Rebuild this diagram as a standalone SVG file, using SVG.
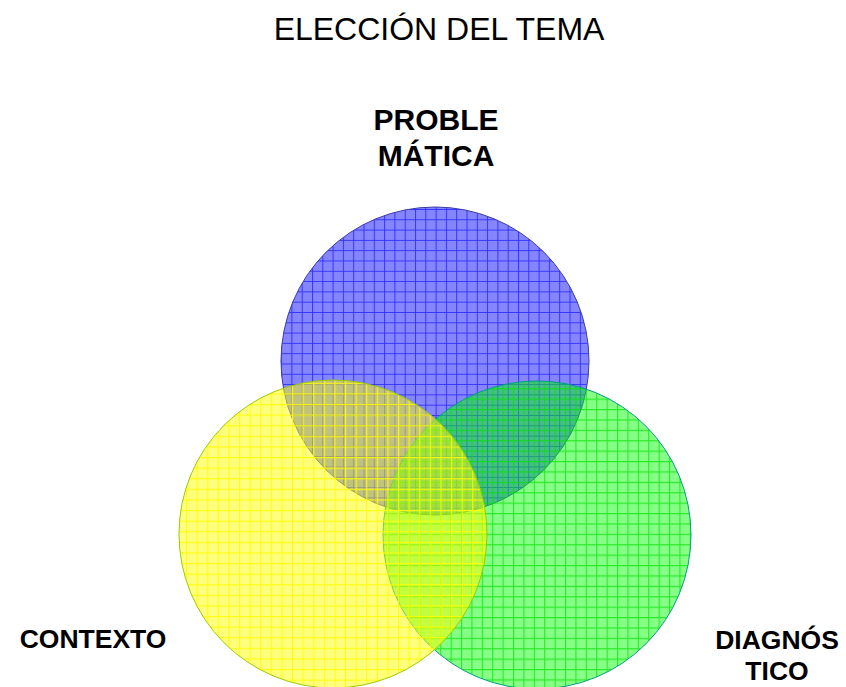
<svg xmlns="http://www.w3.org/2000/svg" width="846" height="687" viewBox="0 0 846 687">
  <style>
    .title { font-family: "Liberation Sans", Arial, sans-serif; font-size: 32px; fill: #000; }
    .lbl { font-family: "Liberation Sans", Arial, sans-serif; font-weight: bold; fill: #000; }
  </style>
  <defs>
    <pattern id="pBlue" patternUnits="userSpaceOnUse" width="10.3" height="10.3" x="3" y="3">
      <rect width="10.3" height="10.3" fill="#0000ff" fill-opacity="0.48"/>
      <path d="M0.5 0V10.3M0 0.5H10.3" stroke="#0000ff" stroke-opacity="0.6" stroke-width="1"/>
    </pattern>
    <pattern id="pYellow" patternUnits="userSpaceOnUse" width="10.6" height="10.6" x="239" y="563">
      <rect width="10.6" height="10.6" fill="#ffff00" fill-opacity="0.5"/>
      <path d="M0.5 0V10.6M0 0.5H10.6" stroke="#ffff00" stroke-opacity="0.85" stroke-width="1.3"/>
    </pattern>
    <pattern id="pGreen" patternUnits="userSpaceOnUse" width="10.4" height="10.4" x="565" y="565">
      <rect width="10.4" height="10.4" fill="#00ff00" fill-opacity="0.48"/>
      <path d="M0.5 0V10.4M0 0.5H10.4" stroke="#00e000" stroke-opacity="0.7" stroke-width="1.2"/>
    </pattern>
  </defs>
  <rect width="846" height="687" fill="#ffffff"/>
  <text class="title" x="439" y="39.5" text-anchor="middle">ELECCIÓN DEL TEMA</text>
  <g id="problematica">
    <circle cx="435" cy="361" r="154" fill="url(#pBlue)" stroke="#3a3aa8" stroke-width="1"/>
    <text class="lbl" x="436" y="130" font-size="30" text-anchor="middle">PROBLE</text>
    <text class="lbl" x="436" y="166" font-size="30" text-anchor="middle">MÁTICA</text>
  </g>
  <g id="diagnostico">
    <circle cx="537" cy="535" r="154" fill="url(#pGreen)" stroke="#00a080" stroke-width="1"/>
    <text class="lbl" x="777" y="649" font-size="26.5" text-anchor="middle">DIAGNÓS</text>
    <text class="lbl" x="777" y="680" font-size="26.5" text-anchor="middle">TICO</text>
  </g>
  <g id="contexto">
    <circle cx="333" cy="534" r="154" fill="url(#pYellow)" stroke="#99cc00" stroke-width="1"/>
    <text class="lbl" x="93" y="648" font-size="26.5" text-anchor="middle">CONTEXTO</text>
  </g>
  <g id="connectors"/>
</svg>
